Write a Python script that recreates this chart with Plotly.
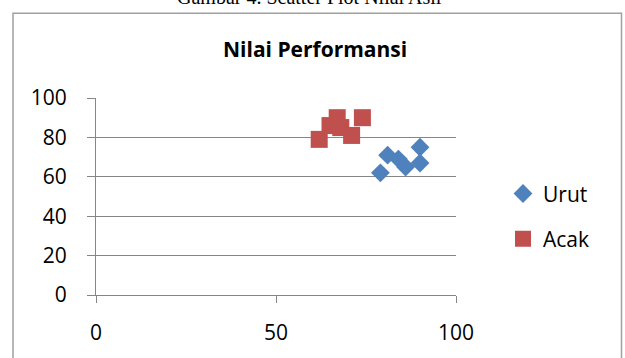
import plotly.graph_objects as go

title = "Nilai Performansi"
caption = "Gambar 4. Scatter Plot Nilai Asli"

urut_x = [79, 81, 84, 86, 90, 90]
urut_y = [62, 71, 69, 65, 75, 67]
acak_x = [62, 65, 67, 68, 71, 74]
acak_y = [79, 86, 90, 85, 81, 90]

x_ticks = [0, 50, 100]
y_ticks = [0, 20, 40, 60, 80, 100]

W, H = 625, 358
L, R, T, B = 96, 456, 97.5, 295
pw, ph = R - L, B - T

def px(x):
    return (x - L) / pw

def py(y):
    return (B - y) / ph

font = "Open Sans"
grey = "#868686"

fig = go.Figure()
fig.add_trace(go.Scatter(x=urut_x, y=urut_y, mode="markers", name="Urut",
                         legendgroup="a",
                         marker=dict(symbol="diamond", size=14.5, color="#4F81BD")))
fig.add_trace(go.Scatter(x=acak_x, y=acak_y, mode="markers", name="Acak",
                         legendgroup="b",
                         marker=dict(symbol="square", size=17, color="#C0504D")))

fig.update_layout(
    width=W, height=H,
    margin=dict(l=L, r=W - R, t=T, b=H - B),
    paper_bgcolor="white", plot_bgcolor="white",
    font=dict(family=font, size=21, color="black"),
    showlegend=True,
    legend=dict(x=px(503), y=py(173), xanchor="left", yanchor="top",
                traceorder="grouped", tracegroupgap=15,
                font=dict(size=21), itemwidth=30, bgcolor="rgba(0,0,0,0)"),
    xaxis=dict(range=[0, 100], tickvals=x_ticks, showgrid=False,
               showline=True, linecolor=grey, linewidth=1,
               ticks="outside", ticklen=7, tickcolor=grey,
               ticklabelstandoff=12, zeroline=False, fixedrange=True),
    yaxis=dict(range=[0, 100], tickvals=y_ticks, showgrid=True, gridcolor=grey,
               gridwidth=1, showline=True, linecolor=grey, linewidth=1,
               ticks="outside", ticklen=8, tickcolor=grey,
               ticklabelstandoff=16, zeroline=False, fixedrange=True),
    shapes=[dict(type="rect", xref="paper", yref="paper",
                 x0=px(13), x1=px(621.5), y0=py(365), y1=py(12.5),
                 line=dict(color="#A0A0A0", width=1.5), layer="below")],
    annotations=[
        dict(text="<b>" + title + "</b>", xref="paper", yref="paper",
             x=px(315), y=py(48), xanchor="center", yanchor="middle",
             showarrow=False, font=dict(family=font, size=21, color="black")),
        dict(text=caption, xref="paper", yref="paper",
             x=px(309), y=py(9), xanchor="center", yanchor="bottom",
             showarrow=False,
             font=dict(family="Liberation Serif", size=20, color="black")),
    ],
)

fig.write_html("out.html", config={"displayModeBar": False},
               post_script="document.body.style.margin='0';")
